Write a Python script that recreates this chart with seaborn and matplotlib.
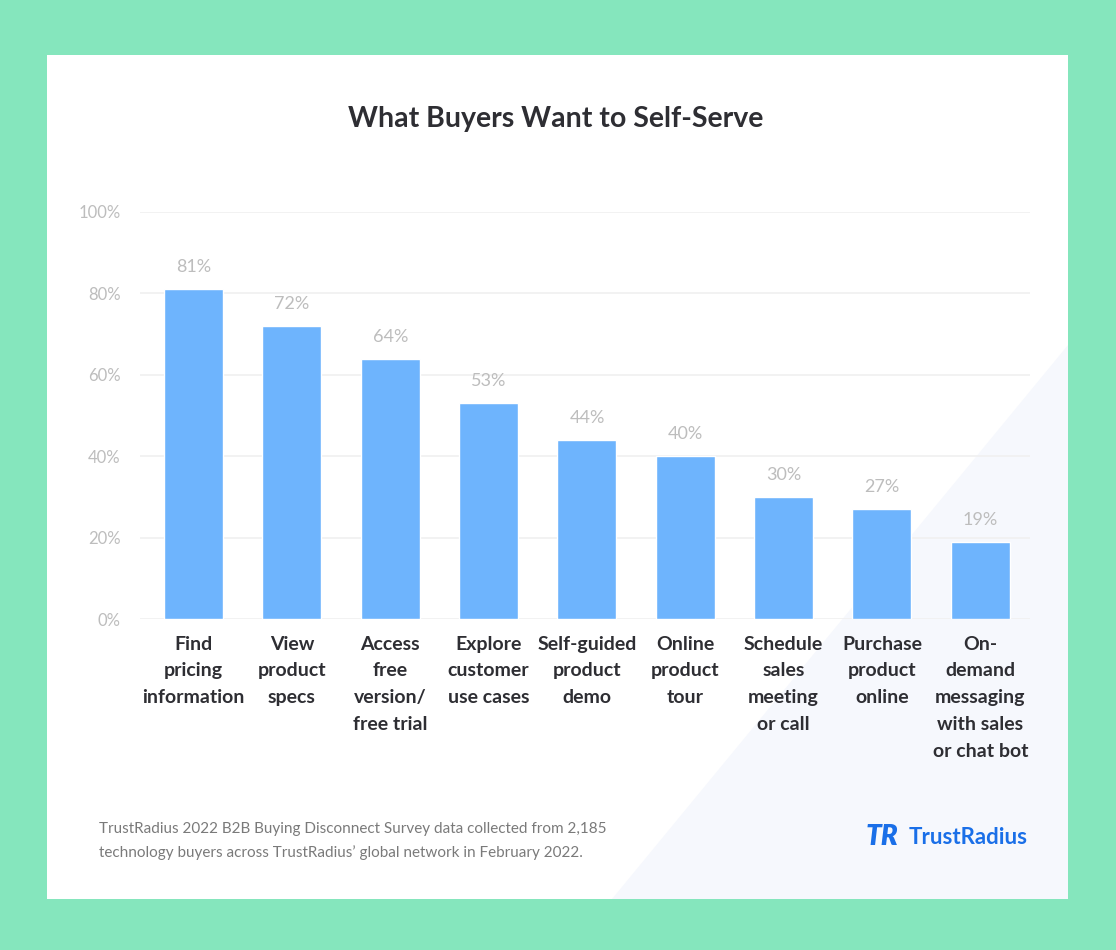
import numpy as np
import pandas as pd
import seaborn as sns
import matplotlib.pyplot as plt
from matplotlib.patches import Rectangle, Polygon

# data
categories = ["Find\npricing\ninformation", "View\nproduct\nspecs",
              "Access\nfree\nversion/\nfree trial", "Explore\ncustomer\nuse cases",
              "Self-guided\nproduct\ndemo", "Online\nproduct\ntour",
              "Schedule\nsales\nmeeting\nor call", "Purchase\nproduct\nonline",
              "On-\ndemand\nmessaging\nwith sales\nor chat bot"]
values = [81, 72, 64, 53, 44, 40, 30, 27, 19]
y_ticks = [0, 20, 40, 60, 80, 100]

title = "What Buyers Want to Self-Serve"
footnote = ("TrustRadius 2022 B2B Buying Disconnect Survey data collected from 2,185\n"
            "technology buyers across TrustRadius\u2019 global network in February 2022.")

df = pd.DataFrame({"category": categories, "value": values})

sns.set_theme(style="white")
plt.rcParams['font.family'] = ['Lato', 'DejaVu Sans']

W, H = 1116, 950
fig = plt.figure(figsize=(W / 100, H / 100), dpi=100)
fig.patch.set_facecolor("#85E6BD")

# white card + faint diagonal shade
fig.patches.append(Rectangle((47 / W, 1 - 899 / H), (1068 - 47) / W, (899 - 55) / H,
                             transform=fig.transFigure, facecolor="white",
                             edgecolor="none", zorder=-2))
fig.patches.append(Polygon([(1068 / W, 1 - 345 / H), (1068 / W, 1 - 899 / H),
                            (612 / W, 1 - 899 / H)], closed=True,
                           transform=fig.transFigure, facecolor="#F6F8FD",
                           edgecolor="none", zorder=-1))

ax = fig.add_axes([140 / W, 1 - 619 / H, (1030 - 140) / W, (619 - 212) / H])
ax.set_facecolor("none")

sns.barplot(data=df, x="category", y="value", color="#6EB4FD", width=0.6,
            saturation=1, ax=ax, zorder=3)

ax.set_ylim(0, 100)
ax.set_xlim(-0.545, 8.505)
ax.set_yticks(y_ticks)
ax.set_yticklabels([f"{t}%" for t in y_ticks], color="#BDBDBD", fontsize=12)
ax.yaxis.grid(True, color="#F0F0F0", linewidth=1.2, zorder=0)
ax.set_axisbelow(True)
ax.tick_params(axis="y", length=0, pad=14)
ax.tick_params(axis="x", length=0, pad=12)
ax.set_xticks(range(len(categories)))
ax.set_xticklabels(categories, fontsize=14, fontweight="bold", color="#2E2E33",
                   linespacing=1.7, va="top")
ax.set_xlabel("")
ax.set_ylabel("")
for s in ax.spines.values():
    s.set_visible(False)

for i, v in enumerate(values):
    ax.annotate(f"{v}%", (i, v), xytext=(0, 10), textcoords="offset points",
                ha="center", va="bottom", fontsize=13, color="#BDBDBD")

fig.text(556 / W, 1 - 119 / H, title, ha="center", va="center",
         fontsize=20.5, fontweight="bold", color="#2E2E33")
fig.text(99 / W, 1 - 841 / H, footnote, ha="left", va="center",
         fontsize=11, color="#7A7A7A", linespacing=1.7)

# logo
fig.text(866 / W, 1 - 837 / H, "TR", ha="left", va="center", fontsize=20,
         fontweight="heavy", style="italic", color="#1A6FE8")
fig.text(1028 / W, 1 - 837 / H, "TrustRadius", ha="right", va="center",
         fontsize=16, fontweight="bold", color="#1A6FE8")

fig.savefig("out.png", dpi=100, facecolor=fig.get_facecolor())
